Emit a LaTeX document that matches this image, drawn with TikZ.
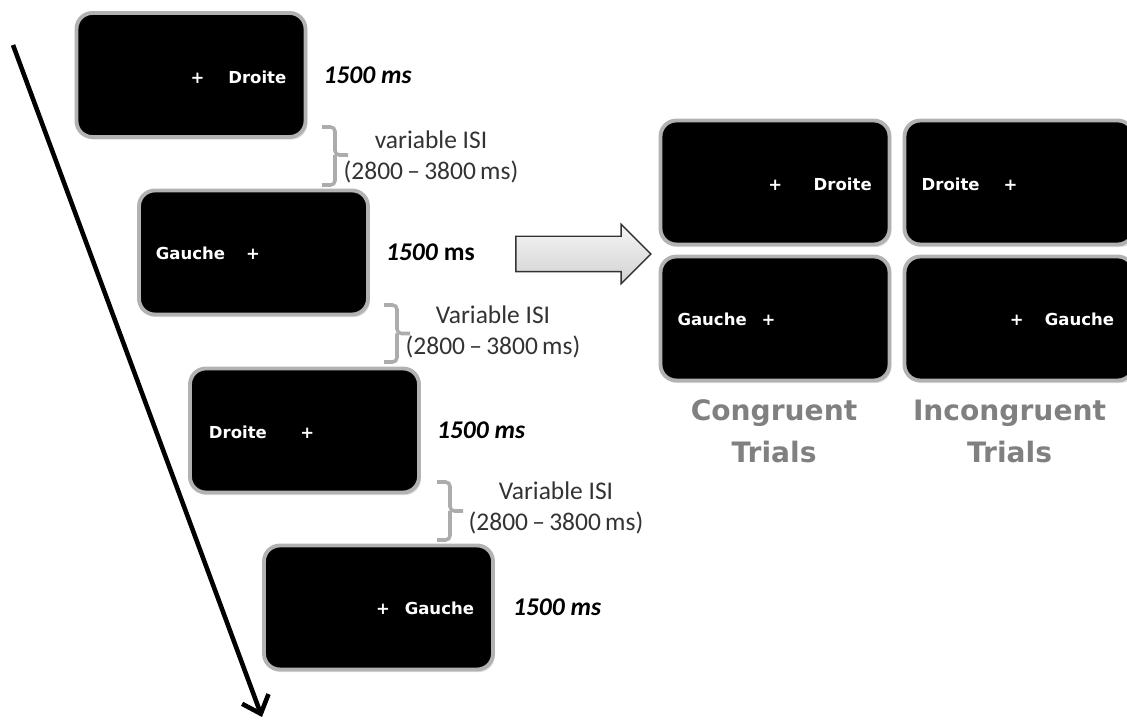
\documentclass[tikz,border=0pt]{standalone}
\usepackage{fontspec}
\setmainfont{Carlito}
\newfontfamily\screenfont{DejaVu Sans}
\usetikzlibrary{positioning,arrows.meta,shapes.arrows,shadows}

\begin{document}
\begin{tikzpicture}[
    screen/.style={draw=gray!60, line width=2.2pt, fill=black, rounded corners=9pt,
        minimum width=4.58cm, minimum height=2.48cm,
        drop shadow={opacity=0.25, shadow xshift=1pt, shadow yshift=-1.5pt}},
    cue/.style={text=white, font=\screenfont\bfseries\fontsize{9.4}{11}\selectfont},
    dur/.style={font=\bfseries\fontsize{14.5}{17}\selectfont},
    isi/.style={font=\fontsize{14.5}{18}\selectfont, text=black!80, align=center, inner sep=0pt},
    isibrace/.style={draw=gray!65, line width=2pt, rounded corners=2.5pt},
    trials/.style={font=\screenfont\bfseries\fontsize{16}{24}\selectfont, text=black!50, align=center},
    bigarrow/.style={single arrow, draw=gray!40!black, line width=0.8pt, top color=gray!8, bottom color=gray!35,
        minimum height=2.7cm, inner xsep=0pt, inner ysep=0.34cm, single arrow head extend=0.24cm}
  ]
        \useasboundingbox (0,0) rectangle (22.54,14.4);
        \clip (0,0) rectangle (22.54,14.4);

        % Time axis
        \coordinate (tstart) at (0.26,13.5);
        \coordinate (tend) at (5.24,0.06);
        \draw[line width=2.6pt, -{Straight Barb[length=9pt,width=16pt]}] (tstart) -- (tend);

        % Trial sequence
        \node[screen] (s1) at (3.82,12.9) {};
        \node[screen] (s2) at (5.07,9.35) {};
        \node[screen] (s3) at (6.09,5.79) {};
        \node[screen] (s4) at (7.57,2.25) {};

        \node[cue] (cue1) at (4.77,12.86) {+\hspace{13.6pt}Droite};
        \node[cue] (cue2) at (4.16,9.34) {Gauche\hspace{12pt}+};
        \node[cue] (cue3) at (5.23,5.76) {Droite\hspace{19pt}+};
        \node[cue] (cue4) at (8.5,2.24) {+\hspace{8.5pt}Gauche};

        % Durations
        \node[dur, right=0.2cm of s1] (d1) {\textit{1500 ms}};
        \node[dur, right=0.2cm of s2] (d2) {\textit{1500} ms};
        \node[dur, right=0.2cm of s3] (d3) {\textit{1500 ms}};
        \node[dur, right=0.24cm of s4] (d4) {\textit{1500 ms}};

        % Inter-stimulus intervals
        \draw[isibrace] (6.44,11.86) -| (6.7,11.3) -- (6.96,11.3) (6.44,10.7) -| (6.7,11.3);
        \draw[isibrace] (7.68,8.3) -| (7.94,7.73) -- (8.2,7.73) (7.68,7.16) -| (7.94,7.73);
        \draw[isibrace] (8.74,4.76) -| (9.0,4.18) -- (9.26,4.18) (8.74,3.6) -| (9.0,4.18);
        \node[isi] (isi1) at (8.62,11.26) {variable ISI\\(2800\,--\,3800\,ms)};
        \node[isi] (isi2) at (9.86,7.76) {Variable ISI\\(2800\,--\,3800\,ms)};
        \node[isi] (isi3) at (11.12,4.24) {Variable ISI\\(2800\,--\,3800\,ms)};

        % Block arrow to trial types
        \node[bigarrow] (go) at (11.49,9.32) {};

        % Trial types
        \node[screen] (c1) at (15.5,10.75) {};
        \node[screen] (i1) at (20.38,10.75) {};
        \node[screen] (c2) at (15.5,8.03) {};
        \node[screen] (i2) at (20.38,8.03) {};

        \node[cue] (ccue1) at (16.4,10.72) {+\hspace{18pt}Droite};
        \node[cue] (icue1) at (19.39,10.72) {Droite\hspace{13.6pt}+};
        \node[cue] (ccue2) at (14.53,8.02) {Gauche\hspace{8.5pt}+};
        \node[cue] (icue2) at (21.24,8.02) {+\hspace{12pt}Gauche};

        \node[trials] (cong) at (15.48,5.77) {Congruent\\Trials};
        \node[trials] (incong) at (20.19,5.77) {Incongruent\\Trials};
    \end{tikzpicture}
\end{document}
